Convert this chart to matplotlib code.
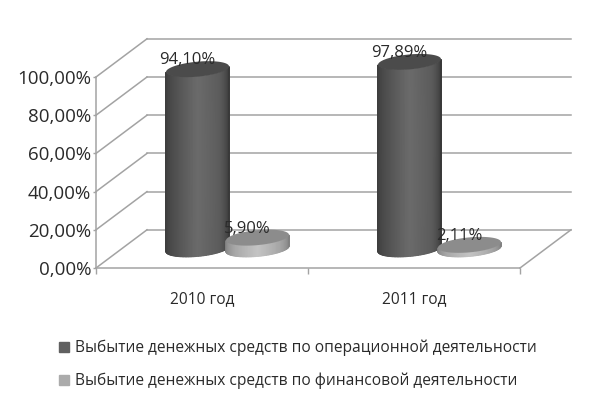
import numpy as np
import matplotlib
matplotlib.use("Agg")
import matplotlib.pyplot as plt
from matplotlib.colors import LinearSegmentedColormap
from matplotlib.lines import Line2D

categories = ["2010 год", "2011 год"]
operating = [94.10, 97.89]
financing = [5.90, 2.11]
operating_labels = ["94,10%", "97,89%"]
financing_labels = ["5,90%", "2,11%"]
series_names = ["Выбытие денежных средств по операционной деятельности",
                "Выбытие денежных средств по финансовой деятельности"]
y_ticks = [0, 20, 40, 60, 80, 100]
y_labels = ["0,00%", "20,00%", "40,00%", "60,00%", "80,00%", "100,00%"]

plt.rcParams['font.family'] = ['Open Sans', 'DejaVu Sans']
text_color = "#2a2a2a"
grid_color = "#a3a3a3"

W, H = 607, 407
fig = plt.figure(figsize=(W / 100, H / 100), dpi=100)
# axes box in pixels of the picture
ax = fig.add_axes([96 / W, (H - 268) / H, (570 - 96) / W, (268 - 37) / H])

# one category is 212 px wide, 100% is 191 px high
px_x = 1 / 212
px_y = 100 / 191
ax.set_xlim(0, 474 * px_x)
ax.set_ylim(0, 231 * px_y)
ax.patch.set_alpha(0)

# depth of the floor
depth_x = 51 * px_x
depth_y = 20

# walls
for t in y_ticks:
    ax.plot([0, depth_x], [t, t + depth_y], color=grid_color, lw=1.1, clip_on=False)
    ax.plot([depth_x, 2 + depth_x], [t + depth_y, t + depth_y], color=grid_color, lw=1.1, clip_on=False)
ax.plot([2, 2 + depth_x], [0, depth_y], color=grid_color, lw=1.1, clip_on=False)

dark_cmap = LinearSegmentedColormap.from_list("dark", ["#3a3a3a", "#505050", "#6b6b6b", "#5c5c5c", "#383838"])
light_cmap = LinearSegmentedColormap.from_list("light", ["#7d7d7d", "#a8a8a8", "#c4c4c4", "#a6a6a6", "#808080"])


def cylinder(center, value, cmap, top_color):
    # center in category units at mid depth of the floor
    xc = center + depth_x / 2
    yc = depth_y / 2
    w = 29.5 * px_x
    dx = 11 * px_x
    dy = 8 * px_y
    a = np.arctan2(dx, w)
    t = np.linspace(np.pi + a, 2 * np.pi + a, 60)
    ex = w * np.cos(t) + dx * np.sin(t)
    ey = dy * np.sin(t)
    X = np.array([xc + ex, xc + ex])
    Y = np.array([yc + ey, yc + value + ey])
    C = np.array([np.linspace(0, 1, 60), np.linspace(0, 1, 60)])
    ax.pcolormesh(X, Y, C, cmap=cmap, shading="gouraud", zorder=3)
    t2 = np.linspace(0, 2 * np.pi, 120)
    ax.fill(xc + w * np.cos(t2) + dx * np.sin(t2), yc + value + dy * np.sin(t2),
            color=top_color, lw=0, zorder=4)
    return xc, yc + value


offset = 0.1415
for i in range(len(categories)):
    pos = i + 0.5
    x1, y1 = cylinder(pos - offset, operating[i], dark_cmap, "#4b4b4b")
    x2, y2 = cylinder(pos + offset, financing[i], light_cmap, "#8c8c8c")
    ax.annotate(operating_labels[i], (x1, y1), xytext=(-7.5, 6.5), textcoords="offset points",
                ha="center", va="center", fontsize=12, color=text_color, zorder=6)
    ax.annotate(financing_labels[i], (x2, y2), xytext=(-7.5, 6.5), textcoords="offset points",
                ha="center", va="center", fontsize=12, color=text_color, zorder=6)

ax.set_ylim(0, 231 * px_y)
ax.set_xlim(0, 474 * px_x)

# axes
for s in ["top", "right"]:
    ax.spines[s].set_visible(False)
ax.spines["left"].set_bounds(0, 100)
ax.spines["bottom"].set_bounds(0, 2)
for s in ["left", "bottom"]:
    ax.spines[s].set_color(grid_color)
    ax.spines[s].set_linewidth(1.1)

ax.set_yticks(y_ticks)
ax.set_yticklabels(y_labels)
ax.set_xticks([0.5, 1.5])
ax.set_xticklabels(categories)
ax.set_xticks([0, 1, 2], minor=True)
ax.tick_params(axis="y", length=2.5, width=1, color=grid_color, labelsize=13.5, labelcolor=text_color, pad=1)
ax.tick_params(axis="x", which="major", length=0, labelsize=11.2, labelcolor=text_color, pad=16.5)
ax.tick_params(axis="x", which="minor", length=4, width=1, color=grid_color)

handles = [Line2D([], [], marker="s", ls="", color="#606060", markersize=6.5),
           Line2D([], [], marker="s", ls="", color="#ababab", markersize=6.5)]
fig.legend(handles, series_names, loc="upper left", bbox_to_anchor=(48 / W, (H - 340) / H),
           frameon=False, fontsize=11.2, labelcolor=text_color, handletextpad=-0.25,
           labelspacing=1.05, borderaxespad=0, borderpad=0)

fig.savefig("out.png", dpi=100)
